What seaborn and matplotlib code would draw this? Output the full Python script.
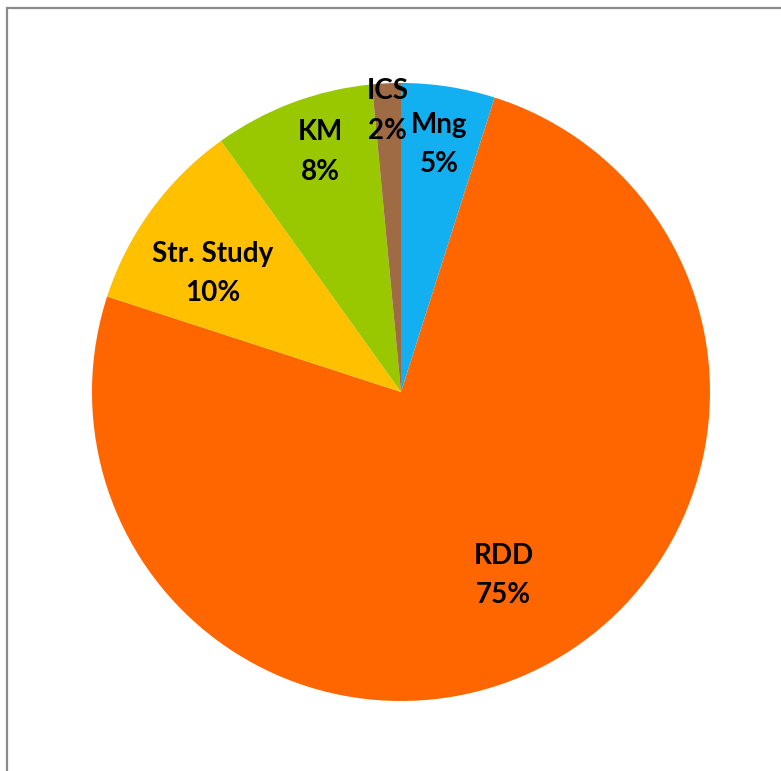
import matplotlib
matplotlib.use('Agg')
import matplotlib.pyplot as plt
from matplotlib.patches import Rectangle
import numpy as np
import seaborn as sns

# slices, clockwise from 12 o'clock
names = ['Mng', 'RDD', 'Str. Study', 'KM', 'ICS']
shares = [4.9, 75.1, 10.1, 8.4, 1.5]
pct_text = ['5%', '75%', '10%', '8%', '2%']
colours = ['#12B0F0', '#FF6600', '#FFC000', '#99C800', '#9E6B45']

sns.set_theme(style='white')
plt.rcParams['font.family'] = ['Lato', 'DejaVu Sans']

fig = plt.figure(figsize=(7.81, 7.71), dpi=100)
fig.patch.set_facecolor('white')

# pie centre ~ (401, 392) px, radius ~ 309 px
r_px = 309
ax = fig.add_axes([(401 - r_px) / 781, (771 - 392 - r_px) / 771, 2 * r_px / 781, 2 * r_px / 771])

wedges, _ = ax.pie(shares, colors=sns.color_palette(colours), startangle=90, counterclock=False,
                   radius=1, wedgeprops=dict(linewidth=0))
ax.set_xlim(-1, 1)
ax.set_ylim(-1, 1)
ax.set_aspect('equal')
ax.axis('off')

# excel style "best fit" labels, each one at its own distance/angle from the centre
dist = [0.81, 0.68, 0.72, 0.82, 0.91]
nudge = [0, 2, 4, -2, 0]   # degrees
for w, name, pct, d, dn in zip(wedges, names, pct_text, dist, nudge):
    th = np.deg2rad((w.theta1 + w.theta2) / 2 + dn)
    ax.text(d * np.cos(th), d * np.sin(th), name + '\n' + pct, ha='center', va='center',
            fontsize=20, fontweight='bold', color='black', linespacing=1.65)

# grey frame (only top and left edges show in the crop)
fig.add_artist(Rectangle((7.5 / 781, -0.5), 2, 1.5 - 7.5 / 771, transform=fig.transFigure,
                         fill=False, edgecolor='#8a8a8a', linewidth=1.6))

fig.savefig('out.png', dpi=100, facecolor='white')
